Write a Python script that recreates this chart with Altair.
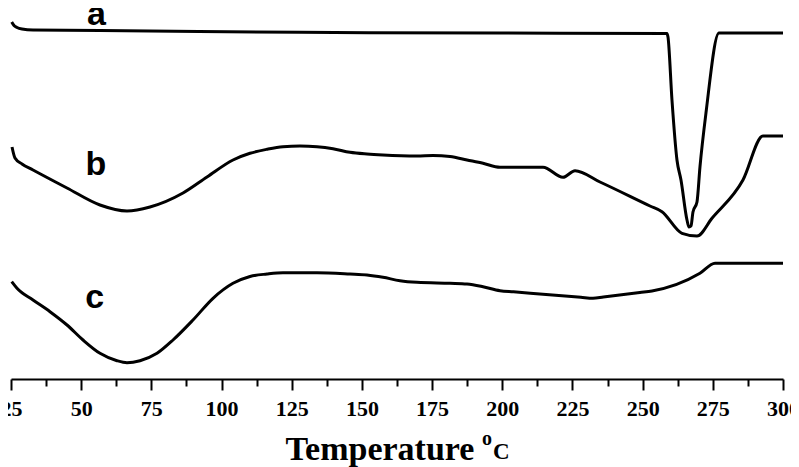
import altair as alt
import pandas as pd

# Temperature (°C) and heat-flow signal (arbitrary units, curves offset vertically)
a_T = [25.25, 26.07, 27.14, 28.92, 32.84, 56.70, 127.94, 199.19, 258.68, 259.03, 260.45, 262.23,
       263.66, 265.80, 266.51, 267.22, 267.93, 269.36, 270.42, 272.56, 277.19, 300.0]
a_y = [357, 353.5, 351.5, 350, 349, 348.5, 346.7, 346, 345.5, 342, 279, 219,
       199, 159, 152, 153, 167, 177, 212, 266, 346, 346]

b_T = [25.36, 26.42, 28.92, 32.84, 44.95, 56.70, 66.32, 74.51, 86.27, 94.82, 104.08, 110.14,
       116.19, 121.89, 127.94, 134.0, 139.70, 145.76, 151.81, 157.51, 169.63, 175.32, 181.39,
       187.44, 193.14, 199.19, 214.51, 221.63, 225.91, 234.81, 252.62, 256.89, 264.02, 269.36,
       274.70, 285.74, 292.87, 300.0]
b_y = [232, 221, 215, 209, 191, 174, 168, 172, 186, 202, 219, 225.7,
       229.7, 232.3, 233, 232.3, 230.3, 226.7, 225, 224, 223, 223.5, 222.5,
       219, 215.7, 211.7, 211.7, 201.7, 208.3, 197, 173, 167.3, 145.7, 143,
       160.7, 199, 243, 243]

c_T = [25.25, 27.14, 32.84, 38.89, 44.95, 50.65, 56.70, 62.76, 66.32, 70.95, 77.01, 82.71,
       89.83, 96.96, 104.08, 110.14, 116.19, 121.89, 134.0, 145.76, 151.81, 157.51, 163.57,
       169.63, 181.39, 187.44, 193.14, 199.19, 204.0, 228.0, 232.32, 236.0, 249.0, 253.33,
       270.42, 275.78, 300.0]
c_y = [97.3, 90.7, 79, 67.3, 54, 39, 25.7, 18.3, 16.3, 18.3, 25.7, 39,
       59, 80.7, 95.7, 102.5, 105, 106.3, 106.3, 105, 104, 101.7, 98.3,
       96.7, 95.7, 95, 92.3, 88.3, 87.2, 81.7, 80.7, 82.0, 86.5, 88,
       105.7, 115.7, 115.7]

label_text = ["a", "b", "c"]
label_T = [55.4, 55.2, 54.8]
label_y = [354, 204, 71]

major_ticks = [25, 50, 75, 100, 125, 150, 175, 200, 225, 250, 275, 300]
minor_ticks = [37.5, 62.5, 87.5, 112.5, 137.5, 162.5, 187.5, 212.5, 237.5, 262.5, 287.5]

df = pd.concat([
    pd.DataFrame({"series": "a", "T": a_T, "y": a_y}),
    pd.DataFrame({"series": "b", "T": b_T, "y": b_y}),
    pd.DataFrame({"series": "c", "T": c_T, "y": c_y}),
], ignore_index=True)
labels_df = pd.DataFrame({"text": label_text, "T": label_T, "y": label_y})
minor_df = pd.DataFrame({"T": minor_ticks})

xscale = alt.Scale(domain=[25, 300], nice=False, zero=False)
yscale = alt.Scale(domain=[0, 371], nice=False, zero=False)

SERIF = "Times New Roman, Liberation Serif, serif"

lines = alt.Chart(df).mark_line(color="black", strokeWidth=3, interpolate="monotone").encode(
    x=alt.X("T:Q", scale=xscale, axis=alt.Axis(
        values=major_ticks, title="Temperature", titleFont=SERIF,
        titleFontSize=34, titleFontWeight="bold", titleColor="black",
        titleAlign="left", titleBaseline="alphabetic", titleX=274, titleY=80,
        labelFont=SERIF, labelFontSize=22, labelFontWeight=900,
        labelColor="black", labelPadding=8, labelFlush=False, labelOverlap=False,
        labelBound=False, tickSize=11, tickWidth=2, tickColor="black",
        domainColor="black", domainWidth=2, grid=False, format="d")),
    y=alt.Y("y:Q", scale=yscale, axis=None),
    detail="series:N",
)

minor = alt.Chart(minor_df).mark_point(opacity=0).encode(
    x=alt.X("T:Q", scale=xscale, axis=alt.Axis(
        values=minor_ticks, orient="bottom", labels=False, domain=False, title=None,
        tickSize=7, tickWidth=2, tickColor="black", grid=False)),
    y=alt.value(0),
)

curve_labels = alt.Chart(labels_df).mark_text(
    font="Liberation Sans", fontSize=34, fontWeight="bold", color="black",
    align="center", baseline="alphabetic").encode(
    x=alt.X("T:Q", scale=xscale, axis=None),
    y=alt.Y("y:Q", scale=yscale, axis=None),
    text="text:N",
)

deg = alt.Chart(pd.DataFrame({"t": ["o"]})).mark_text(
    font=SERIF, fontSize=20, fontWeight="bold", color="black",
    align="center", baseline="alphabetic").encode(
    x=alt.value(476), y=alt.value(437), text="t:N")

cel = alt.Chart(pd.DataFrame({"t": ["C"]})).mark_text(
    font=SERIF, fontSize=23, fontWeight="bold", color="black",
    align="left", baseline="alphabetic").encode(
    x=alt.value(482), y=alt.value(451), text="t:N")

chart = alt.layer(lines, minor, curve_labels, deg, cel).resolve_axis(x="independent").properties(
    width=772, height=371,
    padding={"left": 3, "top": 0, "right": 8, "bottom": 88},
    autosize=alt.AutoSizeParams(type="none"),
).configure_view(stroke=None).configure_axis(
    labelFont=SERIF, labelFontSize=22, labelFontWeight=900, labelColor="black"
)

chart.save("out.html", embed_options={"renderer": "svg", "actions": False})
